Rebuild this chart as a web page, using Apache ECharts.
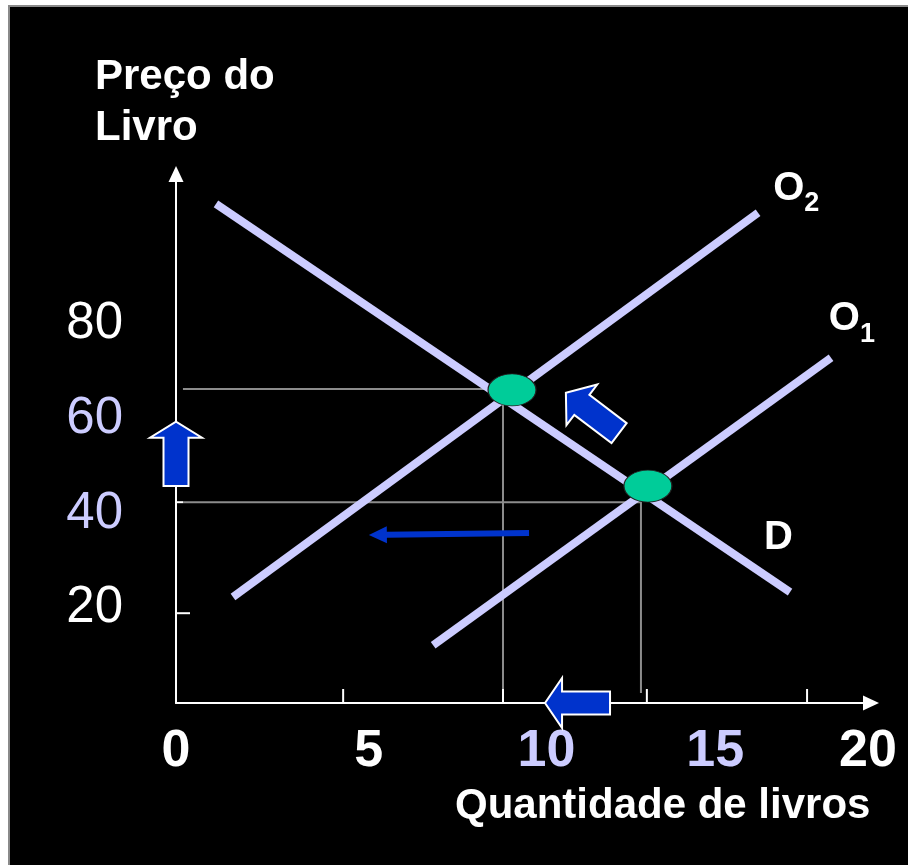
<!DOCTYPE html>
<html><head><meta charset="utf-8">
<script src="https://cdn.jsdelivr.net/npm/echarts@6/dist/echarts.min.js"></script>
<style>
html,body{margin:0;padding:0;background:#fff;overflow:hidden;}
#bg{position:absolute;left:8px;top:5px;width:904px;height:864px;background:#000;border-top:2px solid #8a8a8a;border-left:2px solid #8a8a8a;}
#c{position:absolute;left:0;top:0;width:908px;height:865px;}
</style></head><body><div id="bg"></div><div id="c"></div>
<script>
// ---- data ----
const xTickLabels = ['0', '5', '10', '15', '20'];
const yTickLabels = ['20', '40', '60', '80'];
const curveD = [[1.15, 105.4], [17.67, 23.4]];
const curveO2 = [[1.64, 22.4], [16.75, 103.5]];
const curveO1 = [[7.40, 12.2], [18.85, 72.9]];
const equilibria = [[9.67, 66.1], [13.58, 45.8]];
const guide1 = [[0.2, 66.3], [9.41, 66.3], [9.41, 2.1]];
const guide2 = [[0.2, 42.4], [13.38, 42.4], [13.38, 2.1]];
const curveLabels = [[17.85, 108.6, 'O', '2'], [19.45, 81.0, 'O', '1'], [17.34, 34.8, 'D', '']];
const arrowTails = [[0, 45.8], [12.75, 57.0], [12.49, 0], [10.16, 35.9]];
const arrowTips = [[0, 59.4], [11.22, 65.5], [10.62, 0], [5.55, 35.5]];
const xTickMarks = [4.81, 9.41, 13.55, 18.16];
const yTickMarks = [18.96, 42.4];

// ---- styles ----
const FONT = "'Liberation Sans', Arial, sans-serif";
const LAV = '#ccccff';
const arrowShapes = [
  {shaft: 25, head: 52, headLen: 16, outline: true},
  {shaft: 25, head: 51, headLen: 20, outline: true},
  {shaft: 23, head: 50, headLen: 17, outline: true},
  {shaft: 6, head: 17, headLen: 18, outline: false}
];
const yTickLens = [14, 7];
const xLabelStyle = {'0': 'w', '5': 'w5', '10': 'l10', '15': 'l15', '20': 'w20'};
const yLabelStyle = {'20': 'w', '40': 'l', '60': 'l', '80': 'w'};

const chart = echarts.init(document.getElementById('c'));
const xb = {fontSize: 52, fontWeight: 'bold', fontFamily: FONT};
const yb = {fontSize: 51, fontWeight: 'normal', fontFamily: FONT};

chart.setOption({
  backgroundColor: 'transparent',
  animation: false,
  title: [
    {text: 'Preço do\nLivro', left: 95, top: 52, padding: 0,
     textStyle: {color: '#fff', fontSize: 42, fontWeight: 'bold', lineHeight: 51, fontFamily: FONT}},
    {text: 'Quantidade de livros', left: 455, top: 785, padding: 0,
     textStyle: {color: '#fff', fontSize: 42, fontWeight: 'bold', fontFamily: FONT}}
  ],
  grid: {left: 176, top: 174, right: 37, bottom: 162, containLabel: false},
  xAxis: {
    type: 'value', min: 0, max: 20, interval: 5,
    axisLine: {show: true, lineStyle: {color: '#fff', width: 2}, symbol: ['none', 'triangle'], symbolSize: [15, 16]},
    axisTick: {show: false}, splitLine: {show: false},
    axisLabel: {
      margin: 23,
      formatter: v => { const s = String(v); return xTickLabels.includes(s) ? '{' + xLabelStyle[s] + '|' + s + '}' : ''; },
      rich: {
        w: Object.assign({color: '#fff'}, xb),
        w5: Object.assign({color: '#fff', padding: [0, 0, 0, 38]}, xb),
        l10: Object.assign({color: LAV, padding: [0, 0, 0, 46]}, xb),
        l15: Object.assign({color: LAV, padding: [0, 0, 0, 36]}, xb),
        w20: Object.assign({color: '#fff', padding: [0, 6, 0, 0]}, xb)
      }
    }
  },
  yAxis: {
    type: 'value', min: 0, max: 111.7, interval: 20,
    axisLine: {show: true, lineStyle: {color: '#fff', width: 2}, symbol: ['none', 'triangle'], symbolSize: [15, 16]},
    axisTick: {show: false}, splitLine: {show: false},
    axisLabel: {
      margin: 53,
      formatter: v => { const s = String(v); return yTickLabels.includes(s) ? '{' + yLabelStyle[s] + '|' + s + '}' : ''; },
      rich: {
        w: Object.assign({color: '#fff'}, yb),
        l: Object.assign({color: LAV}, yb)
      }
    }
  },
  series: [
    {type: 'line', data: guide1, symbol: 'none', z: 1, lineStyle: {color: '#8c8c8c', width: 2}},
    {type: 'line', data: guide2, symbol: 'none', z: 1, lineStyle: {color: '#8c8c8c', width: 2}},
    {type: 'line', data: curveD, symbol: 'none', z: 3, lineStyle: {color: LAV, width: 8, cap: 'butt'}},
    {type: 'line', data: curveO2, symbol: 'none', z: 3, lineStyle: {color: LAV, width: 8, cap: 'butt'}},
    {type: 'line', data: curveO1, symbol: 'none', z: 3, lineStyle: {color: LAV, width: 8, cap: 'butt'}},
    {type: 'custom', z: 2,
     data: xTickMarks.map(x => [x, 0]),
     renderItem: (params, api) => {
       const p = api.coord([api.value(0), api.value(1)]);
       return {type: 'line', shape: {x1: p[0], y1: p[1], x2: p[0], y2: p[1] - 14}, style: {stroke: '#fff', lineWidth: 2}};
     }},
    {type: 'custom', z: 2,
     data: yTickMarks.map(y => [0, y]),
     renderItem: (params, api) => {
       const p = api.coord([api.value(0), api.value(1)]);
       return {type: 'line', shape: {x1: p[0], y1: p[1], x2: p[0] + yTickLens[params.dataIndex], y2: p[1]}, style: {stroke: '#fff', lineWidth: 2}};
     }},
    {type: 'scatter', data: equilibria, z: 5,
     symbol: 'path://M0 16A24 16 0 1 1 48 16A24 16 0 1 1 0 16Z', symbolSize: [48, 32],
     itemStyle: {color: '#00cc99', borderColor: '#222', borderWidth: 1, opacity: 1}},
    {type: 'custom', z: 6,
     data: arrowTails.map((t, i) => [t[0], t[1], arrowTips[i][0], arrowTips[i][1]]),
     encode: {x: [0, 2], y: [1, 3]},
     renderItem: (params, api) => {
       const a = api.coord([api.value(0), api.value(1)]);
       const b = api.coord([api.value(2), api.value(3)]);
       const s = arrowShapes[params.dataIndex];
       const dx = b[0] - a[0], dy = b[1] - a[1], L = Math.hypot(dx, dy);
       const ux = dx / L, uy = dy / L, nx = -uy, ny = ux;
       const nk = [b[0] - ux * s.headLen, b[1] - uy * s.headLen];
       const hs = s.shaft / 2, hh = s.head / 2;
       const pts = [
         [a[0] + nx * hs, a[1] + ny * hs], [nk[0] + nx * hs, nk[1] + ny * hs], [nk[0] + nx * hh, nk[1] + ny * hh],
         [b[0], b[1]],
         [nk[0] - nx * hh, nk[1] - ny * hh], [nk[0] - nx * hs, nk[1] - ny * hs], [a[0] - nx * hs, a[1] - ny * hs]
       ];
       return {type: 'polygon', shape: {points: pts},
               style: {fill: '#0033cc', stroke: s.outline ? '#fff' : null, lineWidth: s.outline ? 2 : 0}};
     }},
    {type: 'scatter', data: curveLabels, z: 7, symbolSize: 1,
     itemStyle: {color: 'rgba(0,0,0,0)', opacity: 1},
     label: {show: true, position: 'inside', opacity: 1, color: '#fff',
       formatter: p => '{o|' + p.data[2] + '}' + (p.data[3] ? '{s|' + p.data[3] + '}' : ''),
       rich: {
         o: {color: '#fff', fontSize: 40, fontWeight: 'bold', fontFamily: FONT, lineHeight: 42},
         s: {color: '#fff', fontSize: 27, fontWeight: 'bold', fontFamily: FONT, lineHeight: 27, padding: [30, 0, 0, 0]}
       }}}
  ]
});
</script></body></html>
